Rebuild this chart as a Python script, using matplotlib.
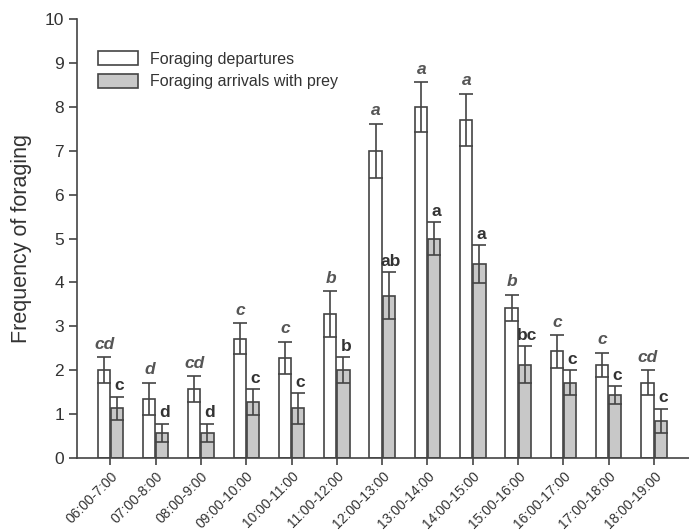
import numpy as np
import matplotlib.pyplot as plt

plt.rcParams['font.family'] = ['Liberation Sans', 'DejaVu Sans']

# hourly slots
slots = ["06:00-7:00", "07:00-8:00", "08:00-9:00", "09:00-10:00", "10:00-11:00",
         "11:00-12:00", "12:00-13:00", "13:00-14:00", "14:00-15:00", "15:00-16:00",
         "16:00-17:00", "17:00-18:00", "18:00-19:00"]

# foraging departures (mean, se, letter)
dep = [2.0, 1.35, 1.57, 2.72, 2.28, 3.28, 7.0, 8.0, 7.7, 3.42, 2.43, 2.12, 1.72]
dep_err = [0.3, 0.37, 0.3, 0.35, 0.37, 0.52, 0.62, 0.57, 0.6, 0.3, 0.37, 0.28, 0.28]
dep_lab = ["cd", "d", "cd", "c", "c", "b", "a", "a", "a", "b", "c", "c", "cd"]

# arrivals with prey
arr = [1.13, 0.57, 0.57, 1.28, 1.13, 2.0, 3.7, 5.0, 4.42, 2.13, 1.72, 1.43, 0.85]
arr_err = [0.27, 0.21, 0.21, 0.29, 0.35, 0.3, 0.53, 0.37, 0.43, 0.42, 0.28, 0.2, 0.27]
arr_lab = ["c", "d", "d", "c", "c", "b", "ab", "a", "a", "bc", "c", "c", "c"]

edge = "#444444"
txt = "#333333"
w = 0.27
x = np.arange(len(slots))

fig = plt.figure(figsize=(6.89, 5.31), dpi=100)
ax = fig.add_axes([0.112, 0.1375, 0.888, 0.8265])

ax.bar(x - w / 2 - 0.01, dep, w, yerr=dep_err, color="white", edgecolor=edge, linewidth=1.2,
       error_kw=dict(ecolor=edge, elinewidth=1.2, capsize=5, capthick=1.2),
       label="Foraging departures")
ax.bar(x + w / 2 + 0.01, arr, w, yerr=arr_err, color="#c8c8c8", edgecolor=edge, linewidth=1.2,
       error_kw=dict(ecolor=edge, elinewidth=1.2, capsize=5, capthick=1.2),
       label="Foraging arrivals with prey")

for i in range(len(slots)):
    ax.text(x[i] - w / 2, dep[i] + dep_err[i] + 0.12, dep_lab[i], ha="center", va="bottom",
            fontsize=12.5, style="italic", fontweight="bold", color="#555555")
    ax.text(x[i] + w / 2 + 0.06, arr[i] + arr_err[i] + 0.08, arr_lab[i], ha="center", va="bottom",
            fontsize=12.5, fontweight="bold", color=txt)

ax.set_xlim(-0.73, 12.77)
ax.set_ylim(0, 10)
ax.set_yticks(range(11))
ax.set_xticks(x)
ax.set_xticklabels(slots, rotation=45, ha="right", rotation_mode="anchor", fontsize=10, color=txt)
ax.tick_params(axis="y", labelsize=12.5, labelcolor=txt, color=edge, length=6, width=1.2)
ax.tick_params(axis="x", color=edge, length=5, width=1.2, pad=3)
ax.set_ylabel("Frequency of foraging", fontsize=15.5, color=txt, labelpad=9)

for s in ["top", "right"]:
    ax.spines[s].set_visible(False)
for s in ["left", "bottom"]:
    ax.spines[s].set_color(edge)
    ax.spines[s].set_linewidth(1.2)

ax.legend(loc="upper left", bbox_to_anchor=(0.01, 0.96), frameon=False, fontsize=11.5,
          handlelength=2.5, handleheight=1.0, labelspacing=0.45, handletextpad=0.8,
          labelcolor=txt)

plt.savefig("out.png", dpi=100)
